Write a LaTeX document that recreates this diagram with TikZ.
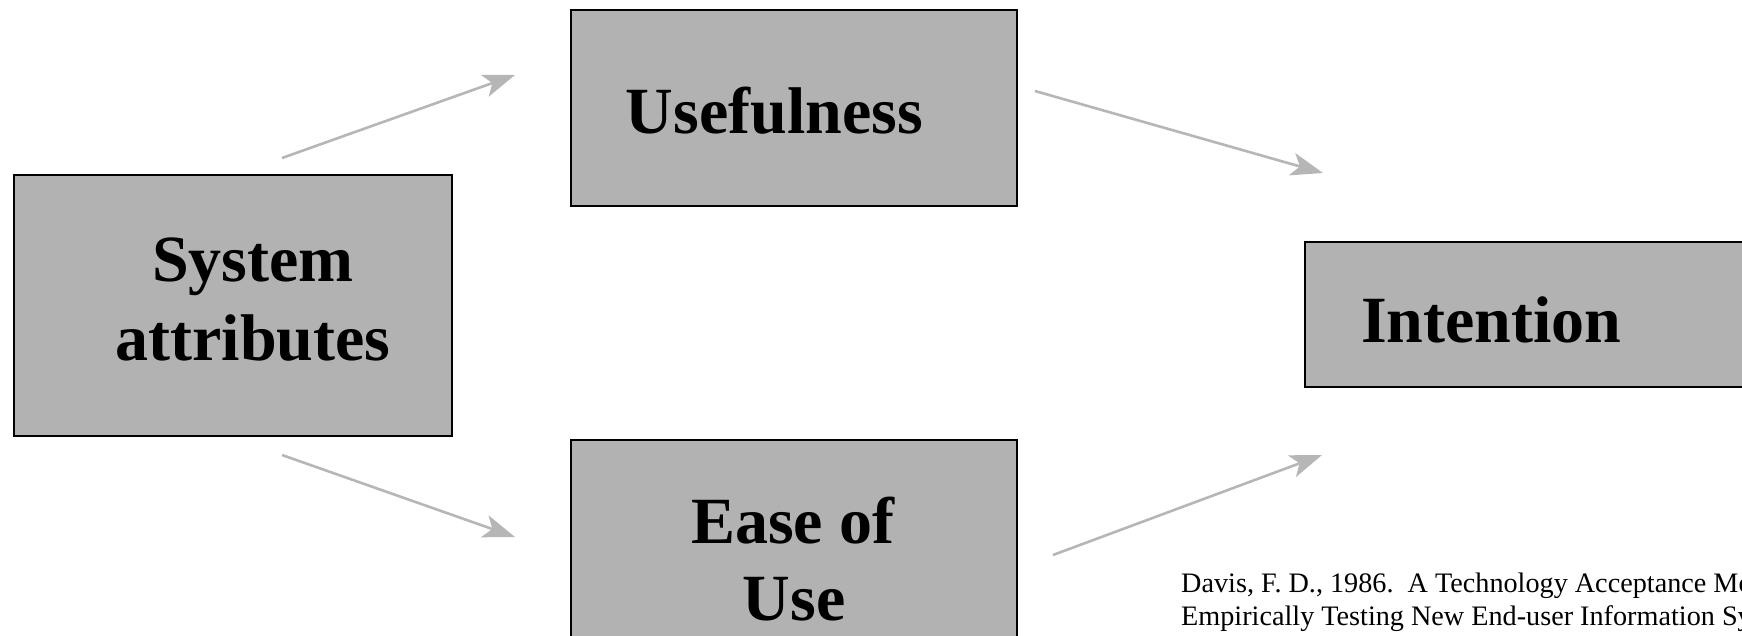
\documentclass[tikz,border=0pt]{standalone}
\usepackage{fontspec}
\setmainfont{Liberation Serif}
\usetikzlibrary{arrows.meta}
\definecolor{boxgray}{RGB}{178,178,178}
\definecolor{arrowgray}{RGB}{182,182,182}
\tikzset{
  construct/.style={draw=black, line width=2pt, fill=boxgray, rectangle, inner sep=0pt},
  title/.style={font=\bfseries\fontsize{66}{76}\selectfont, inner sep=0pt, anchor=base},
  link/.style={draw=arrowgray, line width=2.6pt, -{Stealth[length=32pt,width=23pt,inset=8pt]}},
  cite/.style={font=\fontsize{28.2}{33}\selectfont, inner sep=0pt, anchor=base west}
}
\begin{document}
\begin{tikzpicture}[x=1pt,y=-1pt]
\useasboundingbox (0,0) rectangle (1742,635);
\clip (0,0) rectangle (1742,635);

% construct boxes
\node[construct, minimum width=438pt, minimum height=261pt] (sys) at (233,305.5) {};
\node[construct, minimum width=446pt, minimum height=196pt] (use) at (794,108) {};
\node[construct, minimum width=446pt, minimum height=260pt] (ease) at (794,570) {};
\node[construct, minimum width=495pt, minimum height=145pt] (int) at (1552.5,314.5) {};

% box titles
\node[title] (sys1) at (253,281) {System};
\node[title] (sys2) at (253,360) {attributes};
\node[title] (usetxt) at (774.5,133) {Usefulness};
\node[title] (ease1) at (793,543) {Ease of};
\node[title] (ease2) at (794,620) {Use};
\node[title] (inttxt) at (1491.5,342) {Intention};

% arrow end points
\coordinate (a1s) at (282,158);
\coordinate (a1e) at (515,75);
\coordinate (a2s) at (282,455);
\coordinate (a2e) at (515,537);
\coordinate (a3s) at (1035,91);
\coordinate (a3e) at (1323,173);
\coordinate (a4s) at (1053,555);
\coordinate (a4e) at (1322,455);

\draw[link] (a1s) -- (a1e);
\draw[link] (a2s) -- (a2e);
\draw[link] (a3s) -- (a3e);
\draw[link] (a4s) -- (a4e);

% reference
\node[cite] (ref1) at (1181,592) {Davis, F. D., 1986.\ \ A Technology Acceptance Model};
\node[cite] (ref2) at (1181,625) {Empirically Testing New End-user Information Systems};
\end{tikzpicture}
\end{document}
